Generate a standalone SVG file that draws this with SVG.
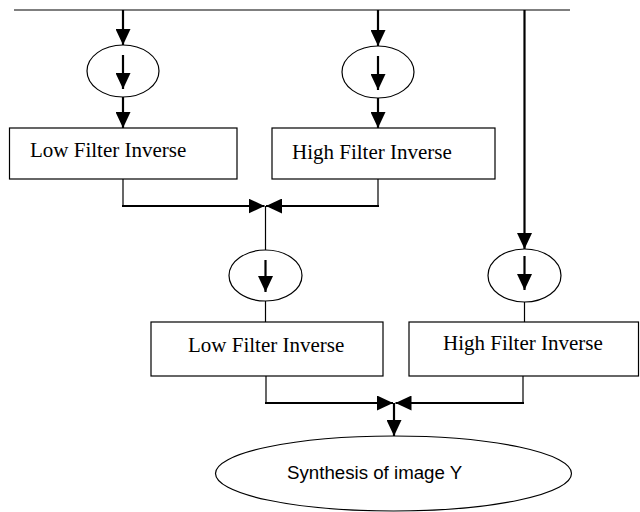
<svg xmlns="http://www.w3.org/2000/svg" width="640" height="512" viewBox="0 0 640 512">
<style>
.thin{stroke:#000;stroke-width:1.2;fill:none}
.thick{stroke:#000;stroke-width:2.2;fill:none}
.box{fill:#fff;stroke:#000;stroke-width:1.2}
.ell{fill:#fff;stroke:#000;stroke-width:1.2}
.lbl{font-family:"Liberation Serif","Times New Roman",serif;font-size:21px;fill:#000}
.syn{font-family:"Liberation Sans",Arial,sans-serif;font-size:18.7px;fill:#000}
</style>
<defs>
<marker id="ah" markerUnits="userSpaceOnUse" markerWidth="17" markerHeight="15" refX="16" refY="7.5" orient="auto">
<path d="M0,0 L16,7.5 L0,15 z" fill="#000"/>
</marker>
</defs>
<rect width="640" height="512" fill="#fff"/>
<g id="connectors">
<line class="thin" x1="14" y1="10" x2="570" y2="10"/>
<line class="thick" x1="123" y1="10" x2="123" y2="45" marker-end="url(#ah)"/>
<line class="thick" x1="123" y1="97" x2="123" y2="128" marker-end="url(#ah)"/>
<line class="thick" x1="378" y1="10" x2="378" y2="46" marker-end="url(#ah)"/>
<line class="thick" x1="378" y1="98" x2="378" y2="128" marker-end="url(#ah)"/>
<line class="thick" x1="524.5" y1="10" x2="524.5" y2="249" marker-end="url(#ah)"/>
<polyline class="thin" points="123,179 123,206"/>
<line class="thick" x1="122" y1="206" x2="264.5" y2="206" marker-end="url(#ah)"/>
<polyline class="thin" points="378,179 378,206"/>
<line class="thick" x1="379" y1="206" x2="266" y2="206" marker-end="url(#ah)"/>
<line class="thin" x1="265.5" y1="206" x2="265.5" y2="250"/>
<line class="thin" x1="265.5" y1="301" x2="265.5" y2="322"/>
<line class="thin" x1="524.5" y1="302" x2="524.5" y2="322"/>
<polyline class="thin" points="266,376 266,403"/>
<line class="thick" x1="265" y1="403" x2="393" y2="403" marker-end="url(#ah)"/>
<polyline class="thin" points="523,376 523,403"/>
<line class="thick" x1="524" y1="403" x2="395.5" y2="403" marker-end="url(#ah)"/>
<line class="thick" x1="394" y1="403" x2="394" y2="436" marker-end="url(#ah)"/>
</g>
<g id="e1">
<ellipse class="ell" cx="123" cy="71" rx="36" ry="26"/>
<line class="thick" x1="123" y1="55" x2="123" y2="89" marker-end="url(#ah)"/>
</g>
<g id="e2">
<ellipse class="ell" cx="378" cy="72" rx="36" ry="26"/>
<line class="thick" x1="378" y1="56" x2="378" y2="90" marker-end="url(#ah)"/>
</g>
<g id="box1">
<rect class="box" x="9.5" y="128" width="227.5" height="51"/>
<text class="lbl" x="30" y="157">Low Filter Inverse</text>
</g>
<g id="box2">
<rect class="box" x="272" y="128" width="223" height="51"/>
<text class="lbl" x="292" y="159">High Filter Inverse</text>
</g>
<g id="e3">
<ellipse class="ell" cx="265.5" cy="275.5" rx="36.5" ry="25.5"/>
<line class="thick" x1="265.5" y1="260" x2="265.5" y2="292" marker-end="url(#ah)"/>
</g>
<g id="e4">
<ellipse class="ell" cx="524.5" cy="275.5" rx="36.5" ry="26.5"/>
<line class="thick" x1="524.5" y1="256" x2="524.5" y2="290" marker-end="url(#ah)"/>
</g>
<g id="box3">
<rect class="box" x="151" y="322" width="232" height="54"/>
<text class="lbl" x="188" y="352">Low Filter Inverse</text>
</g>
<g id="box4">
<rect class="box" x="409" y="322" width="229.5" height="54"/>
<text class="lbl" x="443" y="350">High Filter Inverse</text>
</g>
<g id="synth">
<ellipse class="ell" cx="393.5" cy="473.5" rx="178" ry="37.5"/>
<text class="syn" x="287" y="479">Synthesis of image Y</text>
</g>
</svg>
